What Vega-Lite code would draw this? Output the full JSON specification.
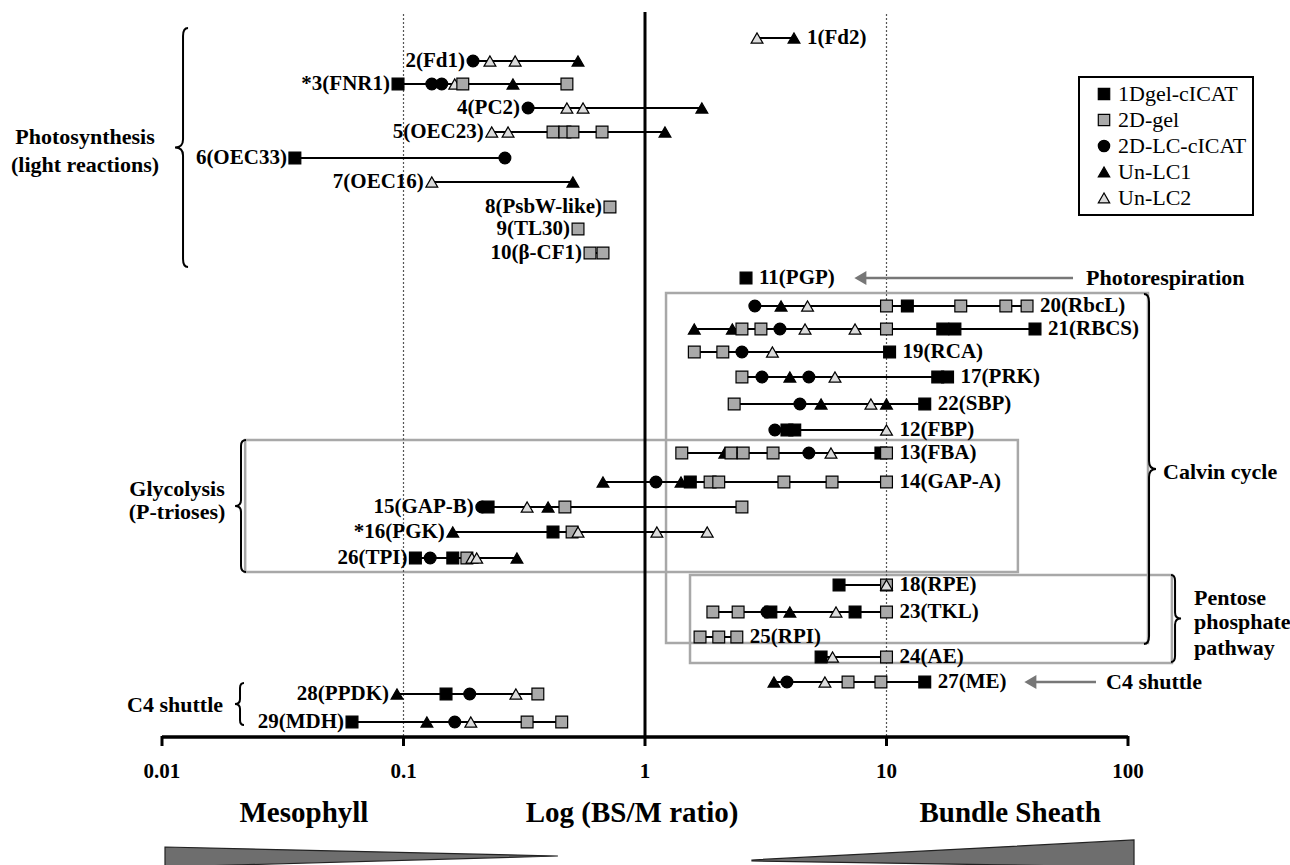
{
  "$schema": "https://vega.github.io/schema/vega-lite/v6.json",
  "width": 1290,
  "height": 865,
  "autosize": {"type": "none"},
  "padding": 0,
  "background": "white",
  "config": {
    "view": {"stroke": null},
    "legend": {"strokeWidth": 2},
    "text": {"font": "Liberation Serif", "fontWeight": "bold", "fontSize": 22, "baseline": "middle", "color": "black"}
  },
  "datasets": {
    "pts": [
      {"p":"1(Fd2)","y":38,"m":"Un-LC2","v":2.91},{"p":"1(Fd2)","y":38,"m":"Un-LC1","v":4.14},
      {"p":"2(Fd1)","y":61,"m":"2D-LC-cICAT","v":0.194},{"p":"2(Fd1)","y":61,"m":"Un-LC2","v":0.228},{"p":"2(Fd1)","y":61,"m":"Un-LC2","v":0.29},{"p":"2(Fd1)","y":61,"m":"Un-LC1","v":0.528},
      {"p":"*3(FNR1)","y":84,"m":"1Dgel-cICAT","v":0.0949},{"p":"*3(FNR1)","y":84,"m":"2D-LC-cICAT","v":0.131},{"p":"*3(FNR1)","y":84,"m":"2D-LC-cICAT","v":0.144},{"p":"*3(FNR1)","y":84,"m":"Un-LC2","v":0.163},{"p":"*3(FNR1)","y":84,"m":"2D-gel","v":0.176},{"p":"*3(FNR1)","y":84,"m":"Un-LC1","v":0.284},{"p":"*3(FNR1)","y":84,"m":"2D-gel","v":0.475},
      {"p":"4(PC2)","y":108,"m":"2D-LC-cICAT","v":0.328},{"p":"4(PC2)","y":108,"m":"Un-LC2","v":0.475},{"p":"4(PC2)","y":108,"m":"Un-LC2","v":0.554},{"p":"4(PC2)","y":108,"m":"Un-LC1","v":1.72},
      {"p":"5(OEC23)","y":132,"m":"Un-LC2","v":0.232},{"p":"5(OEC23)","y":132,"m":"Un-LC2","v":0.271},{"p":"5(OEC23)","y":132,"m":"2D-gel","v":0.416},{"p":"5(OEC23)","y":132,"m":"2D-gel","v":0.466},{"p":"5(OEC23)","y":132,"m":"2D-gel","v":0.503},{"p":"5(OEC23)","y":132,"m":"2D-gel","v":0.664},{"p":"5(OEC23)","y":132,"m":"Un-LC1","v":1.21},
      {"p":"6(OEC33)","y":158,"m":"1Dgel-cICAT","v":0.0355},{"p":"6(OEC33)","y":158,"m":"2D-LC-cICAT","v":0.263},
      {"p":"7(OEC16)","y":182,"m":"Un-LC2","v":0.131},{"p":"7(OEC16)","y":182,"m":"Un-LC1","v":0.503},
      {"p":"8(PsbW-like)","y":207,"m":"2D-gel","v":0.716},
      {"p":"9(TL30)","y":229,"m":"2D-gel","v":0.528},
      {"p":"10(β-CF1)","y":253,"m":"2D-gel","v":0.592},{"p":"10(β-CF1)","y":253,"m":"2D-gel","v":0.67},
      {"p":"11(PGP)","y":278,"m":"1Dgel-cICAT","v":2.62},
      {"p":"20(RbcL)","y":306,"m":"2D-LC-cICAT","v":2.85},{"p":"20(RbcL)","y":306,"m":"Un-LC1","v":3.66},{"p":"20(RbcL)","y":306,"m":"Un-LC2","v":4.71},{"p":"20(RbcL)","y":306,"m":"2D-gel","v":10},{"p":"20(RbcL)","y":306,"m":"1Dgel-cICAT","v":12.2},{"p":"20(RbcL)","y":306,"m":"2D-gel","v":20.3},{"p":"20(RbcL)","y":306,"m":"2D-gel","v":31.2},{"p":"20(RbcL)","y":306,"m":"2D-gel","v":38.2},
      {"p":"21(RBCS)","y":329,"m":"Un-LC1","v":1.6},{"p":"21(RBCS)","y":329,"m":"Un-LC1","v":2.3},{"p":"21(RBCS)","y":329,"m":"2D-gel","v":2.52},{"p":"21(RBCS)","y":329,"m":"2D-gel","v":3.02},{"p":"21(RBCS)","y":329,"m":"2D-LC-cICAT","v":3.62},{"p":"21(RBCS)","y":329,"m":"Un-LC2","v":4.6},{"p":"21(RBCS)","y":329,"m":"Un-LC2","v":7.41},{"p":"21(RBCS)","y":329,"m":"2D-gel","v":10},{"p":"21(RBCS)","y":329,"m":"1Dgel-cICAT","v":17.1},{"p":"21(RBCS)","y":329,"m":"1Dgel-cICAT","v":19.2},{"p":"21(RBCS)","y":329,"m":"1Dgel-cICAT","v":41.2},
      {"p":"19(RCA)","y":352,"m":"2D-gel","v":1.6},{"p":"19(RCA)","y":352,"m":"2D-gel","v":2.1},{"p":"19(RCA)","y":352,"m":"2D-LC-cICAT","v":2.52},{"p":"19(RCA)","y":352,"m":"Un-LC2","v":3.37},{"p":"19(RCA)","y":352,"m":"1Dgel-cICAT","v":10.3},
      {"p":"17(PRK)","y":377,"m":"2D-gel","v":2.52},{"p":"17(PRK)","y":377,"m":"2D-LC-cICAT","v":3.05},{"p":"17(PRK)","y":377,"m":"Un-LC1","v":3.98},{"p":"17(PRK)","y":377,"m":"2D-LC-cICAT","v":4.77},{"p":"17(PRK)","y":377,"m":"Un-LC2","v":6.12},{"p":"17(PRK)","y":377,"m":"1Dgel-cICAT","v":16.3},{"p":"17(PRK)","y":377,"m":"1Dgel-cICAT","v":17.9},
      {"p":"22(SBP)","y":404,"m":"2D-gel","v":2.34},{"p":"22(SBP)","y":404,"m":"2D-LC-cICAT","v":4.38},{"p":"22(SBP)","y":404,"m":"Un-LC1","v":5.36},{"p":"22(SBP)","y":404,"m":"Un-LC2","v":8.62},{"p":"22(SBP)","y":404,"m":"Un-LC1","v":10},{"p":"22(SBP)","y":404,"m":"1Dgel-cICAT","v":14.4},
      {"p":"12(FBP)","y":430,"m":"2D-LC-cICAT","v":3.45},{"p":"12(FBP)","y":430,"m":"1Dgel-cICAT","v":3.87},{"p":"12(FBP)","y":430,"m":"1Dgel-cICAT","v":4.17},{"p":"12(FBP)","y":430,"m":"Un-LC2","v":10},
      {"p":"13(FBA)","y":453,"m":"2D-gel","v":1.42},{"p":"13(FBA)","y":453,"m":"Un-LC1","v":2.14},{"p":"13(FBA)","y":453,"m":"2D-gel","v":2.27},{"p":"13(FBA)","y":453,"m":"2D-gel","v":2.55},{"p":"13(FBA)","y":453,"m":"2D-gel","v":3.39},{"p":"13(FBA)","y":453,"m":"2D-LC-cICAT","v":4.77},{"p":"13(FBA)","y":453,"m":"Un-LC2","v":5.89},{"p":"13(FBA)","y":453,"m":"1Dgel-cICAT","v":9.48},{"p":"13(FBA)","y":453,"m":"2D-gel","v":10},
      {"p":"14(GAP-A)","y":482,"m":"Un-LC1","v":0.67},{"p":"14(GAP-A)","y":482,"m":"2D-LC-cICAT","v":1.11},{"p":"14(GAP-A)","y":482,"m":"Un-LC1","v":1.41},{"p":"14(GAP-A)","y":482,"m":"1Dgel-cICAT","v":1.54},{"p":"14(GAP-A)","y":482,"m":"2D-gel","v":1.86},{"p":"14(GAP-A)","y":482,"m":"2D-gel","v":2.02},{"p":"14(GAP-A)","y":482,"m":"2D-gel","v":3.76},{"p":"14(GAP-A)","y":482,"m":"2D-gel","v":5.95},{"p":"14(GAP-A)","y":482,"m":"2D-gel","v":10},
      {"p":"15(GAP-B)","y":507,"m":"2D-LC-cICAT","v":0.211},{"p":"15(GAP-B)","y":507,"m":"1Dgel-cICAT","v":0.224},{"p":"15(GAP-B)","y":507,"m":"Un-LC2","v":0.325},{"p":"15(GAP-B)","y":507,"m":"Un-LC1","v":0.397},{"p":"15(GAP-B)","y":507,"m":"2D-gel","v":0.466},{"p":"15(GAP-B)","y":507,"m":"2D-gel","v":2.52},
      {"p":"*16(PGK)","y":532,"m":"Un-LC1","v":0.16},{"p":"*16(PGK)","y":532,"m":"1Dgel-cICAT","v":0.416},{"p":"*16(PGK)","y":532,"m":"2D-gel","v":0.499},{"p":"*16(PGK)","y":532,"m":"Un-LC2","v":0.528},{"p":"*16(PGK)","y":532,"m":"Un-LC2","v":1.12},{"p":"*16(PGK)","y":532,"m":"Un-LC2","v":1.81},
      {"p":"26(TPI)","y":558,"m":"1Dgel-cICAT","v":0.112},{"p":"26(TPI)","y":558,"m":"2D-LC-cICAT","v":0.129},{"p":"26(TPI)","y":558,"m":"1Dgel-cICAT","v":0.16},{"p":"26(TPI)","y":558,"m":"2D-gel","v":0.183},{"p":"26(TPI)","y":558,"m":"Un-LC2","v":0.192},{"p":"26(TPI)","y":558,"m":"Un-LC2","v":0.201},{"p":"26(TPI)","y":558,"m":"Un-LC1","v":0.295},
      {"p":"18(RPE)","y":585,"m":"1Dgel-cICAT","v":6.36},{"p":"18(RPE)","y":585,"m":"2D-gel","v":10},{"p":"18(RPE)","y":585,"m":"Un-LC2","v":10},
      {"p":"23(TKL)","y":612,"m":"2D-gel","v":1.91},{"p":"23(TKL)","y":612,"m":"2D-gel","v":2.43},{"p":"23(TKL)","y":612,"m":"1Dgel-cICAT","v":3.32},{"p":"23(TKL)","y":612,"m":"2D-LC-cICAT","v":3.2},{"p":"23(TKL)","y":612,"m":"Un-LC1","v":3.98},{"p":"23(TKL)","y":612,"m":"Un-LC2","v":6.18},{"p":"23(TKL)","y":612,"m":"1Dgel-cICAT","v":7.41},{"p":"23(TKL)","y":612,"m":"2D-gel","v":10},
      {"p":"25(RPI)","y":637,"m":"2D-gel","v":1.69},{"p":"25(RPI)","y":637,"m":"2D-gel","v":2.02},{"p":"25(RPI)","y":637,"m":"2D-gel","v":2.4},
      {"p":"24(AE)","y":657,"m":"1Dgel-cICAT","v":5.36},{"p":"24(AE)","y":657,"m":"Un-LC2","v":5.98},{"p":"24(AE)","y":657,"m":"2D-gel","v":10},
      {"p":"27(ME)","y":682,"m":"Un-LC1","v":3.42},{"p":"27(ME)","y":682,"m":"2D-LC-cICAT","v":3.87},{"p":"27(ME)","y":682,"m":"Un-LC2","v":5.56},{"p":"27(ME)","y":682,"m":"2D-gel","v":6.93},{"p":"27(ME)","y":682,"m":"2D-gel","v":9.48},{"p":"27(ME)","y":682,"m":"1Dgel-cICAT","v":14.4},
      {"p":"28(PPDK)","y":694,"m":"Un-LC1","v":0.094},{"p":"28(PPDK)","y":694,"m":"1Dgel-cICAT","v":0.15},{"p":"28(PPDK)","y":694,"m":"2D-LC-cICAT","v":0.188},{"p":"28(PPDK)","y":694,"m":"Un-LC2","v":0.292},{"p":"28(PPDK)","y":694,"m":"2D-gel","v":0.36},
      {"p":"29(MDH)","y":722,"m":"1Dgel-cICAT","v":0.0612},{"p":"29(MDH)","y":722,"m":"Un-LC1","v":0.125},{"p":"29(MDH)","y":722,"m":"2D-LC-cICAT","v":0.163},{"p":"29(MDH)","y":722,"m":"Un-LC2","v":0.19},{"p":"29(MDH)","y":722,"m":"2D-gel","v":0.325},{"p":"29(MDH)","y":722,"m":"2D-gel","v":0.452}
    ],
    "labels": [
      {"p":"1(Fd2)","side":"R"},{"p":"2(Fd1)","side":"L"},{"p":"*3(FNR1)","side":"L"},{"p":"4(PC2)","side":"L"},{"p":"5(OEC23)","side":"L"},{"p":"6(OEC33)","side":"L"},{"p":"7(OEC16)","side":"L"},{"p":"8(PsbW-like)","side":"L"},{"p":"9(TL30)","side":"L"},{"p":"10(β-CF1)","side":"L"},{"p":"11(PGP)","side":"R"},{"p":"20(RbcL)","side":"R"},{"p":"21(RBCS)","side":"R"},{"p":"19(RCA)","side":"R"},{"p":"17(PRK)","side":"R"},{"p":"22(SBP)","side":"R"},{"p":"12(FBP)","side":"R"},{"p":"13(FBA)","side":"R"},{"p":"14(GAP-A)","side":"R"},{"p":"15(GAP-B)","side":"L"},{"p":"*16(PGK)","side":"L"},{"p":"26(TPI)","side":"L"},{"p":"18(RPE)","side":"R"},{"p":"23(TKL)","side":"R"},{"p":"25(RPI)","side":"R"},{"p":"24(AE)","side":"R"},{"p":"27(ME)","side":"R"},{"p":"28(PPDK)","side":"L"},{"p":"29(MDH)","side":"L"}
    ]
  },
  "layer": [
    {
      "data": {"values": [
        {"v":1.222,"v2":121,"y":293,"y2":643},
        {"v":0.0221,"v2":35.0,"y":440,"y2":572},
        {"v":1.536,"v2":152,"y":575,"y2":663}
      ]},
      "mark": {"type": "rect", "fill": "transparent", "stroke": "#a8a8a8", "strokeWidth": 2.5},
      "encoding": {
        "x": {"field": "v", "type": "quantitative", "scale": {"type": "log", "domain": [0.002134, 468.6], "nice": false}, "axis": null},
        "x2": {"field": "v2"},
        "y": {"field": "y", "type": "quantitative", "scale": {"domain": [0, 865], "reverse": true, "nice": false, "zero": false}, "axis": null},
        "y2": {"field": "y2"}
      }
    },
    {
      "data": {"values": [{"v":0.1,"y":14,"y2":737},{"v":10,"y":14,"y2":737}]},
      "mark": {"type": "rule", "stroke": "#555555", "strokeWidth": 1.2, "strokeDash": [2, 2]},
      "encoding": {
        "x": {"field": "v", "type": "quantitative", "scale": {"type": "log", "domain": [0.002134, 468.6], "nice": false}, "axis": null},
        "y": {"field": "y", "type": "quantitative", "scale": {"domain": [0, 865], "reverse": true, "nice": false, "zero": false}, "axis": null},
        "y2": {"field": "y2"}
      }
    },
    {
      "data": {"values": [{"v":1,"y":12,"y2":737}]},
      "mark": {"type": "rule", "stroke": "black", "strokeWidth": 3},
      "encoding": {
        "x": {"field": "v", "type": "quantitative", "scale": {"type": "log", "domain": [0.002134, 468.6], "nice": false}, "axis": null},
        "y": {"field": "y", "type": "quantitative", "scale": {"domain": [0, 865], "reverse": true, "nice": false, "zero": false}, "axis": null},
        "y2": {"field": "y2"}
      }
    },
    {
      "data": {"values": [{"v":0.01,"v2":100,"y":737}]},
      "mark": {"type": "rule", "stroke": "black", "strokeWidth": 3.5},
      "encoding": {
        "x": {"field": "v", "type": "quantitative", "scale": {"type": "log", "domain": [0.002134, 468.6], "nice": false}, "axis": null},
        "x2": {"field": "v2"},
        "y": {"field": "y", "type": "quantitative", "scale": {"domain": [0, 865], "reverse": true, "nice": false, "zero": false}, "axis": null}
      }
    },
    {
      "data": {"values": [{"v":0.01,"y":736,"y2":746},{"v":0.1,"y":736,"y2":746},{"v":1,"y":736,"y2":746},{"v":10,"y":736,"y2":746},{"v":100,"y":736,"y2":746}]},
      "mark": {"type": "rule", "stroke": "black", "strokeWidth": 3},
      "encoding": {
        "x": {"field": "v", "type": "quantitative", "scale": {"type": "log", "domain": [0.002134, 468.6], "nice": false}, "axis": null},
        "y": {"field": "y", "type": "quantitative", "scale": {"domain": [0, 865], "reverse": true, "nice": false, "zero": false}, "axis": null},
        "y2": {"field": "y2"}
      }
    },
    {
      "data": {"values": [{"v":0.01029,"y":847,"y2":867},{"v":0.436,"y":856,"y2":856}]},
      "mark": {"type": "area", "fill": "#6e6e6e", "stroke": "#222222", "strokeWidth": 1.2, "orient": "vertical"},
      "encoding": {
        "x": {"field": "v", "type": "quantitative", "scale": {"type": "log", "domain": [0.002134, 468.6], "nice": false}, "axis": null},
        "y": {"field": "y", "type": "quantitative", "scale": {"domain": [0, 865], "reverse": true, "nice": false, "zero": false}, "axis": null},
        "y2": {"field": "y2"}
      }
    },
    {
      "data": {"values": [{"v":2.773,"y":860,"y2":861},{"v":105.9,"y":840,"y2":867}]},
      "mark": {"type": "area", "fill": "#6e6e6e", "stroke": "#222222", "strokeWidth": 1.2, "orient": "vertical"},
      "encoding": {
        "x": {"field": "v", "type": "quantitative", "scale": {"type": "log", "domain": [0.002134, 468.6], "nice": false}, "axis": null},
        "y": {"field": "y", "type": "quantitative", "scale": {"domain": [0, 865], "reverse": true, "nice": false, "zero": false}, "axis": null},
        "y2": {"field": "y2"}
      }
    },
    {
      "data": {"name": "pts"},
      "mark": {"type": "rule", "stroke": "black", "strokeWidth": 2},
      "encoding": {
        "x": {"aggregate": "min", "field": "v", "type": "quantitative", "scale": {"type": "log", "domain": [0.002134, 468.6], "nice": false}, "axis": null},
        "x2": {"aggregate": "max", "field": "v"},
        "y": {"field": "y", "type": "quantitative", "scale": {"domain": [0, 865], "reverse": true, "nice": false, "zero": false}, "axis": null}
      }
    },
    {
      "data": {"name": "pts"},
      "mark": {"type": "point", "filled": true, "strokeWidth": 1.2, "size": 140, "opacity": 1},
      "encoding": {
        "x": {"field": "v", "type": "quantitative", "scale": {"type": "log", "domain": [0.002134, 468.6], "nice": false}, "axis": null},
        "y": {"field": "y", "type": "quantitative", "scale": {"domain": [0, 865], "reverse": true, "nice": false, "zero": false}, "axis": null},
        "shape": {"field": "m", "type": "nominal",
          "scale": {"domain": ["1Dgel-cICAT", "2D-gel", "2D-LC-cICAT", "Un-LC1", "Un-LC2"], "range": ["square", "square", "circle", "triangle-up", "triangle-up"]},
          "legend": {"title": null, "orient": "none", "legendX": 1079, "legendY": 77, "strokeColor": "black", "padding": 6, "symbolOffset": 8, "labelFont": "Liberation Serif", "labelFontSize": 22, "labelFontWeight": "normal", "labelColor": "black", "symbolSize": 130, "symbolStrokeWidth": 1.2, "rowPadding": 4, "labelOffset": 3}},
        "fill": {"field": "m", "type": "nominal",
          "scale": {"domain": ["1Dgel-cICAT", "2D-gel", "2D-LC-cICAT", "Un-LC1", "Un-LC2"], "range": ["black", "#a9a9a9", "black", "black", "#dcdcdc"]},
          "legend": {"title": null, "orient": "none", "legendX": 1079, "legendY": 77, "strokeColor": "black", "padding": 6, "symbolOffset": 8, "labelFont": "Liberation Serif", "labelFontSize": 22, "labelFontWeight": "normal", "labelColor": "black", "symbolSize": 130, "symbolStrokeWidth": 1.2, "rowPadding": 4, "labelOffset": 3}},
        "stroke": {"field": "m", "type": "nominal",
          "scale": {"domain": ["1Dgel-cICAT", "2D-gel", "2D-LC-cICAT", "Un-LC1", "Un-LC2"], "range": ["black", "black", "black", "black", "black"]},
          "legend": {"title": null, "orient": "none", "legendX": 1079, "legendY": 77, "strokeColor": "black", "padding": 6, "symbolOffset": 8, "labelFont": "Liberation Serif", "labelFontSize": 22, "labelFontWeight": "normal", "labelColor": "black", "symbolSize": 130, "symbolStrokeWidth": 1.2, "rowPadding": 4, "labelOffset": 3}}
      }
    },
    {
      "data": {"name": "pts"},
      "transform": [
        {"aggregate": [{"op": "min", "field": "v", "as": "lo"}, {"op": "max", "field": "v", "as": "hi"}], "groupby": ["p", "y"]},
        {"lookup": "p", "from": {"data": {"name": "labels"}, "key": "p", "fields": ["side"]}},
        {"filter": "datum.side === 'L'"}
      ],
      "mark": {"type": "text", "align": "right", "dx": -8, "fontSize": 21},
      "encoding": {
        "x": {"field": "lo", "type": "quantitative", "scale": {"type": "log", "domain": [0.002134, 468.6], "nice": false}, "axis": null},
        "y": {"field": "y", "type": "quantitative", "scale": {"domain": [0, 865], "reverse": true, "nice": false, "zero": false}, "axis": null},
        "text": {"field": "p"}
      }
    },
    {
      "data": {"name": "pts"},
      "transform": [
        {"aggregate": [{"op": "min", "field": "v", "as": "lo"}, {"op": "max", "field": "v", "as": "hi"}], "groupby": ["p", "y"]},
        {"lookup": "p", "from": {"data": {"name": "labels"}, "key": "p", "fields": ["side"]}},
        {"filter": "datum.side === 'R'"}
      ],
      "mark": {"type": "text", "align": "left", "dx": 13, "fontSize": 21},
      "encoding": {
        "x": {"field": "hi", "type": "quantitative", "scale": {"type": "log", "domain": [0.002134, 468.6], "nice": false}, "axis": null},
        "y": {"field": "y", "type": "quantitative", "scale": {"domain": [0, 865], "reverse": true, "nice": false, "zero": false}, "axis": null},
        "text": {"field": "p"}
      }
    },
    {
      "data": {"values": [{"v":0.01222,"y":147.5}]},
      "mark": {"type": "point", "shape": "M0.042,-1Q0,-1 0,-0.933L0,-0.067Q0,0 -0.067,0Q0,0 0,0.067L0,0.933Q0,1 0.042,1", "size": 57121, "filled": false, "stroke": "black", "strokeWidth": 2, "opacity": 1},
      "encoding": {
        "x": {"field": "v", "type": "quantitative", "scale": {"type": "log", "domain": [0.002134, 468.6], "nice": false}, "axis": null},
        "y": {"field": "y", "type": "quantitative", "scale": {"domain": [0, 865], "reverse": true, "nice": false, "zero": false}, "axis": null}
      }
    },
    {
      "data": {"values": [{"v":0.02124,"y":506}]},
      "mark": {"type": "point", "shape": "M0.076,-1Q0,-1 0,-0.91L0,-0.09Q0,0 -0.09,0Q0,0 0,0.09L0,0.91Q0,1 0.076,1", "size": 17424, "filled": false, "stroke": "black", "strokeWidth": 2, "opacity": 1},
      "encoding": {
        "x": {"field": "v", "type": "quantitative", "scale": {"type": "log", "domain": [0.002134, 468.6], "nice": false}, "axis": null},
        "y": {"field": "y", "type": "quantitative", "scale": {"domain": [0, 865], "reverse": true, "nice": false, "zero": false}, "axis": null}
      }
    },
    {
      "data": {"values": [{"v":0.02104,"y":704}]},
      "mark": {"type": "point", "shape": "M0.19,-1Q0,-1 0,-0.76L0,-0.24Q0,0 -0.24,0Q0,0 0,0.24L0,0.76Q0,1 0.19,1", "size": 1764, "filled": false, "stroke": "black", "strokeWidth": 2, "opacity": 1},
      "encoding": {
        "x": {"field": "v", "type": "quantitative", "scale": {"type": "log", "domain": [0.002134, 468.6], "nice": false}, "axis": null},
        "y": {"field": "y", "type": "quantitative", "scale": {"domain": [0, 865], "reverse": true, "nice": false, "zero": false}, "axis": null}
      }
    },
    {
      "data": {"values": [{"v":122.2,"y":469}]},
      "mark": {"type": "point", "shape": "M-0.029,-1Q0,-1 0,-0.954L0,-0.046Q0,0 0.04,0Q0,0 0,0.046L0,0.954Q0,1 -0.029,1", "size": 122500, "filled": false, "stroke": "black", "strokeWidth": 2, "opacity": 1},
      "encoding": {
        "x": {"field": "v", "type": "quantitative", "scale": {"type": "log", "domain": [0.002134, 468.6], "nice": false}, "axis": null},
        "y": {"field": "y", "type": "quantitative", "scale": {"domain": [0, 865], "reverse": true, "nice": false, "zero": false}, "axis": null}
      }
    },
    {
      "data": {"values": [{"v":156.6,"y":618.5}]},
      "mark": {"type": "point", "shape": "M-0.092,-1Q0,-1 0,-0.862L0,-0.138Q0,0 0.138,0Q0,0 0,0.138L0,0.862Q0,1 -0.092,1", "size": 7569, "filled": false, "stroke": "black", "strokeWidth": 2, "opacity": 1},
      "encoding": {
        "x": {"field": "v", "type": "quantitative", "scale": {"type": "log", "domain": [0.002134, 468.6], "nice": false}, "axis": null},
        "y": {"field": "y", "type": "quantitative", "scale": {"domain": [0, 865], "reverse": true, "nice": false, "zero": false}, "axis": null}
      }
    },
    {
      "data": {"values": [{"v":7.9,"v2":59.2,"y":278},{"v":39.6,"v2":73.7,"y":682}]},
      "mark": {"type": "rule", "stroke": "#777777", "strokeWidth": 2.5},
      "encoding": {
        "x": {"field": "v", "type": "quantitative", "scale": {"type": "log", "domain": [0.002134, 468.6], "nice": false}, "axis": null},
        "x2": {"field": "v2"},
        "y": {"field": "y", "type": "quantitative", "scale": {"domain": [0, 865], "reverse": true, "nice": false, "zero": false}, "axis": null}
      }
    },
    {
      "data": {"values": [{"v":7.83,"y":278},{"v":39.6,"y":682}]},
      "mark": {"type": "point", "shape": "triangle-left", "filled": true, "fill": "#777777", "stroke": "#777777", "size": 110, "opacity": 1},
      "encoding": {
        "x": {"field": "v", "type": "quantitative", "scale": {"type": "log", "domain": [0.002134, 468.6], "nice": false}, "axis": null},
        "y": {"field": "y", "type": "quantitative", "scale": {"domain": [0, 865], "reverse": true, "nice": false, "zero": false}, "axis": null}
      }
    },
    {
      "data": {"values": [
        {"t":"Photosynthesis","v":0.0048,"y":137},{"t":"(light reactions)","v":0.0048,"y":165},
        {"t":"Glycolysis","v":0.01154,"y":489},{"t":"(P-trioses)","v":0.01154,"y":512}
      ]},
      "mark": {"type": "text", "align": "center"},
      "encoding": {
        "x": {"field": "v", "type": "quantitative", "scale": {"type": "log", "domain": [0.002134, 468.6], "nice": false}, "axis": null},
        "y": {"field": "y", "type": "quantitative", "scale": {"domain": [0, 865], "reverse": true, "nice": false, "zero": false}, "axis": null},
        "text": {"field": "t"}
      }
    },
    {
      "data": {"values": [{"t":"C4 shuttle","v":0.0179,"y":705}]},
      "mark": {"type": "text", "align": "right"},
      "encoding": {
        "x": {"field": "v", "type": "quantitative", "scale": {"type": "log", "domain": [0.002134, 468.6], "nice": false}, "axis": null},
        "y": {"field": "y", "type": "quantitative", "scale": {"domain": [0, 865], "reverse": true, "nice": false, "zero": false}, "axis": null},
        "text": {"field": "t"}
      }
    },
    {
      "data": {"values": [
        {"t":"Calvin cycle","v":139.6,"y":472},
        {"t":"Pentose","v":187.6,"y":598},{"t":"phosphate","v":187.6,"y":622},{"t":"pathway","v":187.6,"y":648},
        {"t":"Photorespiration","v":67.0,"y":278},{"t":"C4 shuttle","v":81.1,"y":682}
      ]},
      "mark": {"type": "text", "align": "left"},
      "encoding": {
        "x": {"field": "v", "type": "quantitative", "scale": {"type": "log", "domain": [0.002134, 468.6], "nice": false}, "axis": null},
        "y": {"field": "y", "type": "quantitative", "scale": {"domain": [0, 865], "reverse": true, "nice": false, "zero": false}, "axis": null},
        "text": {"field": "t"}
      }
    },
    {
      "data": {"values": [{"t":"0.01","v":0.01,"y":772},{"t":"0.1","v":0.1,"y":772},{"t":"1","v":1,"y":772},{"t":"10","v":10,"y":772},{"t":"100","v":100,"y":772}]},
      "mark": {"type": "text", "align": "center", "fontSize": 21},
      "encoding": {
        "x": {"field": "v", "type": "quantitative", "scale": {"type": "log", "domain": [0.002134, 468.6], "nice": false}, "axis": null},
        "y": {"field": "y", "type": "quantitative", "scale": {"domain": [0, 865], "reverse": true, "nice": false, "zero": false}, "axis": null},
        "text": {"field": "t"}
      }
    },
    {
      "data": {"values": [{"t":"Mesophyll","v":0.0387,"y":813},{"t":"Log (BS/M ratio)","v":0.884,"y":813},{"t":"Bundle Sheath","v":32.5,"y":813}]},
      "mark": {"type": "text", "align": "center", "fontSize": 29},
      "encoding": {
        "x": {"field": "v", "type": "quantitative", "scale": {"type": "log", "domain": [0.002134, 468.6], "nice": false}, "axis": null},
        "y": {"field": "y", "type": "quantitative", "scale": {"domain": [0, 865], "reverse": true, "nice": false, "zero": false}, "axis": null},
        "text": {"field": "t"}
      }
    }
  ]
}
